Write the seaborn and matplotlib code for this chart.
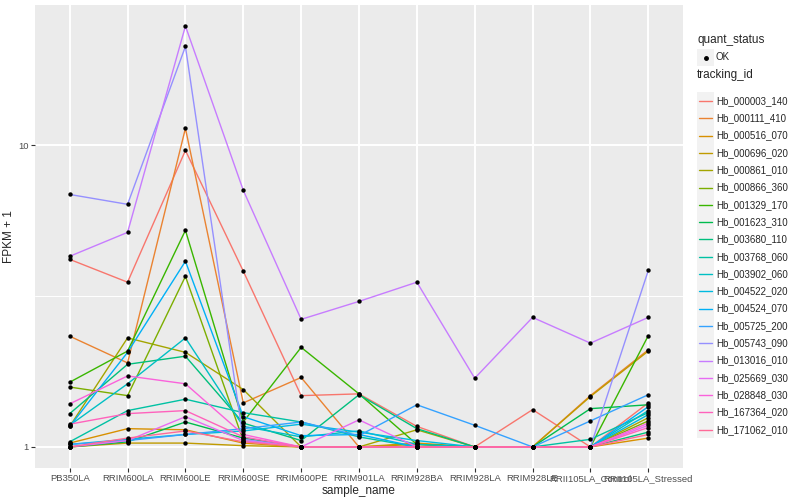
import numpy as np
import pandas as pd
import matplotlib
matplotlib.use('Agg')
import matplotlib.pyplot as plt
from matplotlib.patches import Rectangle
from matplotlib.lines import Line2D
from matplotlib.ticker import FixedLocator, NullFormatter
import seaborn as sns

# 样本名称
samples = ['PB350LA', 'RRIM600LA', 'RRIM600LE', 'RRIM600SE', 'RRIM600PE', 'RRIM901LA',
           'RRIM928BA', 'RRIM928LA', 'RRIM928LE', 'RRII105LA_Control', 'RRII105LA_Stressed']

# 每个基因的 FPKM + 1
hb_000003_140 = [4.19, 3.52, 9.63, 3.83, 1.48, 1.50, 1.17, 1.00, 1.33, 1.00, 1.40]
hb_000111_410 = [2.33, 1.90, 11.4, 1.40, 1.70, 1.00, 1.00, 1.00, 1.00, 1.48, 2.10]
hb_000516_070 = [1.03, 1.15, 1.14, 1.03, 1.00, 1.00, 1.03, 1.00, 1.00, 1.00, 1.07]
hb_000696_020 = [1.00, 1.03, 1.03, 1.01, 1.00, 1.00, 1.02, 1.00, 1.00, 1.47, 2.08]
hb_000861_010 = [1.17, 2.30, 2.06, 1.55, 1.00, 1.00, 1.14, 1.00, 1.00, 1.00, 1.25]
hb_000866_360 = [1.58, 1.48, 3.68, 1.05, 1.00, 1.00, 1.00, 1.00, 1.00, 1.00, 1.22]
hb_001329_170 = [1.64, 2.08, 5.23, 1.21, 2.14, 1.50, 1.02, 1.00, 1.00, 1.00, 2.34]
hb_001623_310 = [1.00, 1.04, 1.21, 1.07, 1.00, 1.00, 1.00, 1.00, 1.00, 1.34, 1.38]
hb_003680_110 = [1.29, 1.88, 2.00, 1.20, 1.05, 1.49, 1.15, 1.00, 1.00, 1.00, 1.12]
hb_003768_060 = [1.04, 1.32, 1.44, 1.30, 1.21, 1.08, 1.00, 1.00, 1.00, 1.06, 1.30]
hb_003902_060 = [1.18, 1.62, 2.30, 1.17, 1.08, 1.13, 1.02, 1.00, 1.00, 1.00, 1.32]
hb_004522_020 = [1.02, 1.06, 1.10, 1.13, 1.19, 1.12, 1.05, 1.00, 1.00, 1.00, 1.28]
hb_004524_070 = [1.17, 2.06, 4.13, 1.26, 1.09, 1.10, 1.00, 1.00, 1.00, 1.00, 1.36]
hb_005725_200 = [1.02, 1.05, 1.10, 1.15, 1.21, 1.09, 1.38, 1.18, 1.00, 1.22, 1.49]
hb_005743_090 = [6.88, 6.38, 21.3, 1.06, 1.00, 1.00, 1.00, 1.00, 1.00, 1.00, 3.85]
hb_013016_010 = [4.29, 5.15, 24.9, 7.10, 2.65, 3.04, 3.52, 1.69, 2.69, 2.21, 2.69]
hb_025669_030 = [1.00, 1.05, 1.26, 1.05, 1.00, 1.23, 1.00, 1.00, 1.00, 1.00, 1.18]
hb_028848_030 = [1.39, 1.72, 1.62, 1.10, 1.00, 1.00, 1.00, 1.00, 1.00, 1.00, 1.20]
hb_167364_020 = [1.19, 1.29, 1.32, 1.08, 1.00, 1.00, 1.00, 1.00, 1.00, 1.00, 1.16]
hb_171062_010 = [1.00, 1.07, 1.13, 1.04, 1.00, 1.00, 1.00, 1.00, 1.00, 1.00, 1.10]

genes = {
    'Hb_000003_140': hb_000003_140, 'Hb_000111_410': hb_000111_410,
    'Hb_000516_070': hb_000516_070, 'Hb_000696_020': hb_000696_020,
    'Hb_000861_010': hb_000861_010, 'Hb_000866_360': hb_000866_360,
    'Hb_001329_170': hb_001329_170, 'Hb_001623_310': hb_001623_310,
    'Hb_003680_110': hb_003680_110, 'Hb_003768_060': hb_003768_060,
    'Hb_003902_060': hb_003902_060, 'Hb_004522_020': hb_004522_020,
    'Hb_004524_070': hb_004524_070, 'Hb_005725_200': hb_005725_200,
    'Hb_005743_090': hb_005743_090, 'Hb_013016_010': hb_013016_010,
    'Hb_025669_030': hb_025669_030, 'Hb_028848_030': hb_028848_030,
    'Hb_167364_020': hb_167364_020, 'Hb_171062_010': hb_171062_010,
}
tracking_ids = list(genes.keys())


def hue_pal(n, l=65, c=100):
    # ggplot2 默认调色板 (HCL -> sRGB)
    hues = np.linspace(15, 375, n + 1)[:-1]
    xn, yn, zn = 95.047, 100.0, 108.883
    un = 4 * xn / (xn + 15 * yn + 3 * zn)
    vn = 9 * yn / (xn + 15 * yn + 3 * zn)
    out = []
    for h in hues:
        u = c * np.cos(np.radians(h))
        v = c * np.sin(np.radians(h))
        Y = yn * ((l + 16) / 116) ** 3
        up = u / (13 * l) + un
        vp = v / (13 * l) + vn
        X = 9 * Y * up / (4 * vp)
        Z = -X / 3 - 5 * Y + 3 * Y / vp
        xyz = np.array([X, Y, Z]) / 100
        m = np.array([[3.240479, -1.537150, -0.498535],
                      [-0.969256, 1.875992, 0.041556],
                      [0.055648, -0.204043, 1.057311]])
        rgb = m @ xyz
        rgb = np.where(rgb <= 0.0031308, 12.92 * rgb, 1.055 * np.power(np.clip(rgb, 0, None), 1 / 2.4) - 0.055)
        out.append(tuple(np.clip(rgb, 0, 1)))
    return out


pal = dict(zip(tracking_ids, hue_pal(len(tracking_ids))))

rows = []
for gid, vals in genes.items():
    for i, s in enumerate(samples):
        rows.append({'tracking_id': gid, 'sample_name': s, 'pos': i, 'fpkm': vals[i]})
df = pd.DataFrame(rows)

sns.set_style('darkgrid', {'axes.facecolor': '#EBEBEB', 'grid.color': 'white'})
plt.rcParams['font.family'] = ['Liberation Sans', 'DejaVu Sans']

fig = plt.figure(figsize=(8, 5), dpi=100)
ax = fig.add_axes([35 / 800, 32 / 500, 648 / 800, 463 / 500])

sns.lineplot(data=df, x='pos', y='fpkm', hue='tracking_id', palette=pal, estimator=None,
             sort=False, lw=1, legend=False, ax=ax)
sns.scatterplot(data=df, x='pos', y='fpkm', color='black', s=10, marker='o',
                linewidth=0, legend=False, ax=ax, zorder=5)

ax.set_yscale('log')
lo, hi = np.log10(df['fpkm'].min()), np.log10(df['fpkm'].max())
pad = (hi - lo) * 0.05
ax.set_ylim(10 ** (lo - pad), 10 ** (hi + pad))
ax.set_xlim(-0.6, len(samples) - 0.4)
ax.set_yticks([1, 10])
ax.set_yticklabels(['1', '10'])
ax.yaxis.set_minor_locator(FixedLocator([10 ** 0.5]))
ax.yaxis.set_minor_formatter(NullFormatter())
ax.set_xticks(range(len(samples)))
ax.set_xticklabels(samples)

ax.grid(which='major', color='white', lw=1.4)
ax.grid(which='minor', axis='y', color='white', lw=0.7)
ax.tick_params(which='major', length=3, width=0.8, color='#333333',
               labelcolor='#4D4D4D', labelsize=6.8, pad=1.5, bottom=True, left=True)
ax.tick_params(which='minor', length=0)
for sp in ax.spines.values():
    sp.set_visible(False)

ax.set_xlabel('sample_name', fontsize=8.5, labelpad=1)
ax.set_ylabel('FPKM + 1', fontsize=8.5, labelpad=2)


# 图例 (手动绘制, 仿 ggplot2 风格)
def fx(x):
    return x / 800


def fy(y):
    return 1 - y / 500


fig.text(fx(697), fy(40), 'quant_status', fontsize=8.5, va='center', ha='left')
fig.patches.append(Rectangle((fx(697), fy(66)), 17 / 800, 17 / 500, transform=fig.transFigure,
                             facecolor='#F2F2F2', edgecolor='none'))
fig.lines.append(Line2D([fx(705.5)], [fy(57.5)], marker='o', ms=2.5, color='black',
                        transform=fig.transFigure))
fig.text(fx(716), fy(57.5), 'OK', fontsize=7, va='center', ha='left')

fig.text(fx(697), fy(75), 'tracking_id', fontsize=8.5, va='center', ha='left')
for i, gid in enumerate(tracking_ids):
    yc = 101 + i * 17.3
    fig.patches.append(Rectangle((fx(697), fy(yc + 8.5)), 17 / 800, 17.3 / 500,
                                 transform=fig.transFigure, facecolor='#F2F2F2', edgecolor='none'))
    fig.lines.append(Line2D([fx(699), fx(712)], [fy(yc), fy(yc)], color=pal[gid], lw=1,
                            transform=fig.transFigure))
    fig.text(fx(716), fy(yc), gid, fontsize=7, va='center', ha='left')

plt.savefig('out.png', dpi=100)
plt.close()
